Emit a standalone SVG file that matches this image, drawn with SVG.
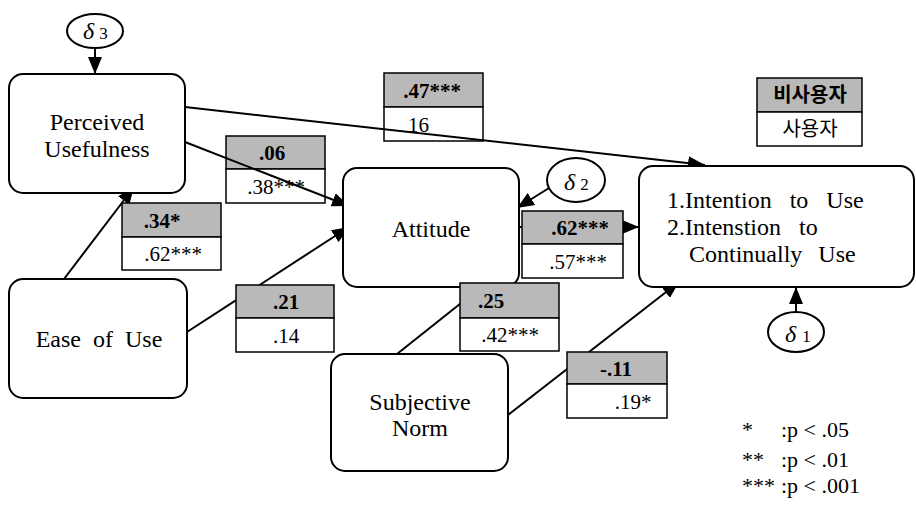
<svg xmlns="http://www.w3.org/2000/svg" width="916" height="509" viewBox="0 0 916 509">
<style>
.node{fill:#fff;stroke:#000;stroke-width:2}
.nt{font-family:'Liberation Serif','Times New Roman','DejaVu Serif',serif;font-size:24px;fill:#000}
.ell{fill:#fff;stroke:#000;stroke-width:2}
.dl{font-family:'Liberation Serif','DejaVu Serif',serif;font-size:24px;font-style:italic;fill:#000}
.ds{font-style:normal;font-size:17px}
.conn{stroke:#000;stroke-width:2;fill:none;marker-end:url(#ah)}
.sh{fill:#b9b9b9;stroke:#000;stroke-width:1.5}
.wh{fill:#fff;stroke:#000;stroke-width:1.5}
.ct{font-family:'Liberation Serif','DejaVu Serif',serif;font-size:21px;font-weight:bold;fill:#000;text-anchor:middle}
.cb{font-family:'Liberation Serif','DejaVu Serif',serif;font-size:21px;fill:#000;text-anchor:middle}
.kr{font-family:'Noto Sans CJK KR',sans-serif;font-size:20px;fill:#000;text-anchor:middle}
.lg{font-family:'Liberation Serif','DejaVu Serif',serif;font-size:22px;fill:#000}
</style>
<defs>
<marker id="ah" markerUnits="userSpaceOnUse" markerWidth="18" markerHeight="14" refX="17" refY="7" orient="auto">
<path d="M0,0 L17,7 L0,14 Z" fill="#000"/>
</marker>
</defs>

<g id="coef-06">
<rect class="sh" x="226" y="136" width="99" height="33"/>
<rect class="wh" x="226" y="169" width="99" height="34"/>
<text class="ct" x="272" y="160">.06</text>
<text class="cb" x="276" y="194">.38***</text>
</g>
<g id="coef-47">
<rect class="sh" x="384" y="73" width="99" height="34"/>
<rect class="wh" x="384" y="107" width="99" height="34"/>
<text class="ct" x="432" y="98">.47***</text>
<text class="cb" x="408" y="132" style="text-anchor:start">16</text>
</g>

<g id="connectors">
<line class="conn" x1="95" y1="48" x2="95" y2="74"/>
<line class="conn" x1="185" y1="107" x2="705" y2="165"/>
<line class="conn" x1="185" y1="142" x2="349" y2="206"/>
<line class="conn" x1="187" y1="332" x2="349" y2="227"/>
<line class="conn" x1="64" y1="279" x2="134" y2="187"/>
<line class="conn" x1="397" y1="354" x2="480" y2="288"/>
<line class="conn" x1="508" y1="415" x2="679" y2="282"/>
<line class="conn" x1="519" y1="227" x2="639" y2="227"/>
<line class="conn" x1="549" y1="188" x2="517" y2="208"/>
<line class="conn" x1="796" y1="312" x2="796" y2="287"/>
</g>

<g id="delta3">
<ellipse class="ell" cx="95" cy="31" rx="28" ry="17"/>
<text class="dl" x="83" y="39">δ<tspan class="ds" dx="5">3</tspan></text>
</g>
<g id="delta2">
<ellipse class="ell" cx="576" cy="180" rx="29" ry="22"/>
<text class="dl" x="564" y="190">δ<tspan class="ds" dx="5">2</tspan></text>
</g>
<g id="delta1">
<ellipse class="ell" cx="796" cy="332" rx="28" ry="20"/>
<text class="dl" x="785" y="342">δ<tspan class="ds" dx="6" font-size="14">1</tspan></text>
</g>

<g id="perceived-usefulness">
<rect class="node" x="9" y="74" width="176" height="119" rx="14"/>
<text class="nt" x="97" y="130" text-anchor="middle">Perceived</text>
<text class="nt" x="97" y="157" text-anchor="middle">Usefulness</text>
</g>
<g id="attitude">
<rect class="node" x="343" y="168" width="176" height="119" rx="14"/>
<text class="nt" x="431" y="237" text-anchor="middle">Attitude</text>
</g>
<g id="intention">
<rect class="node" x="639" y="166" width="275" height="121" rx="14"/>
<text class="nt" x="667" y="208" word-spacing="12">1.Intention to Use</text>
<text class="nt" x="667" y="235" word-spacing="12">2.Intenstion to</text>
<text class="nt" x="689" y="262" word-spacing="10">Continually Use</text>
</g>
<g id="ease-of-use">
<rect class="node" x="9" y="279" width="178" height="119" rx="14"/>
<text class="nt" x="99" y="347" text-anchor="middle" word-spacing="6">Ease of Use</text>
</g>
<g id="subjective-norm">
<rect class="node" x="331" y="354" width="177" height="117" rx="14"/>
<text class="nt" x="420" y="410" text-anchor="middle">Subjective</text>
<text class="nt" x="420" y="436" text-anchor="middle">Norm</text>
</g>

<g id="coef-34">
<rect class="sh" x="122" y="203" width="99" height="34"/>
<rect class="wh" x="122" y="237" width="99" height="33"/>
<text class="ct" x="162" y="228">.34*</text>
<text class="cb" x="173" y="261">.62***</text>
</g>
<g id="coef-21">
<rect class="sh" x="236" y="285" width="98" height="33"/>
<rect class="wh" x="236" y="318" width="98" height="34"/>
<text class="ct" x="286" y="309">.21</text>
<text class="cb" x="286" y="343">.14</text>
</g>
<g id="coef-25">
<rect class="sh" x="460" y="283" width="99" height="35"/>
<rect class="wh" x="460" y="318" width="99" height="33"/>
<text class="ct" x="491" y="308">.25</text>
<text class="cb" x="510" y="342">.42***</text>
</g>
<g id="coef-11">
<rect class="sh" x="567" y="352" width="100" height="32"/>
<rect class="wh" x="567" y="384" width="100" height="34"/>
<text class="ct" x="616" y="376">-.11</text>
<text class="cb" x="633" y="409">.19*</text>
</g>
<g id="coef-62">
<rect class="sh" x="522" y="211" width="101" height="33"/>
<rect class="wh" x="522" y="244" width="101" height="34"/>
<text class="ct" x="580" y="235">.62***</text>
<text class="cb" x="578" y="269">.57***</text>
</g>

<g id="group-legend">
<rect class="sh" x="757" y="78" width="105" height="34"/>
<rect class="wh" x="757" y="112" width="105" height="34"/>
<text class="kr" x="810" y="102" font-weight="bold">비사용자</text>
<text class="kr" x="810" y="136">사용자</text>
</g>

<g id="p-legend">
<text class="lg" x="742" y="437">*</text>
<text class="lg" x="781" y="437">:p &lt; .05</text>
<text class="lg" x="742" y="467">**</text>
<text class="lg" x="781" y="467">:p &lt; .01</text>
<text class="lg" x="742" y="493">***</text>
<text class="lg" x="781" y="493">:p &lt; .001</text>
</g>
</svg>
